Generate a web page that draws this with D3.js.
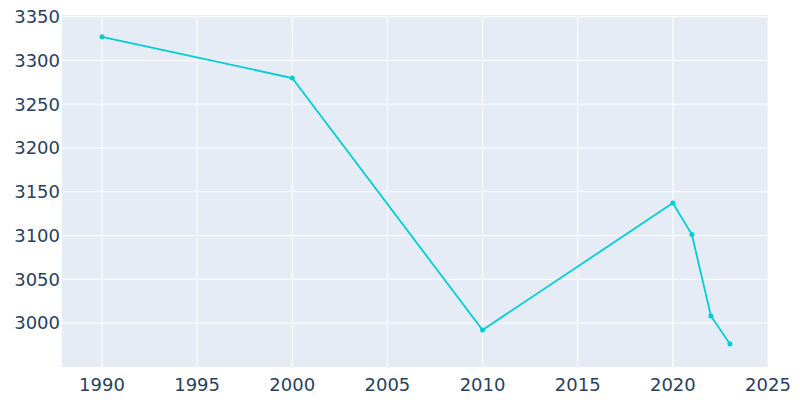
<!DOCTYPE html>
<html><head><meta charset="utf-8">
<script src="https://cdn.jsdelivr.net/npm/d3@7"></script>
<style>body{margin:0;background:#fff}</style>
</head><body>
<div id="chart"></div>
<script>
var years = [1990, 2000, 2010, 2020, 2021, 2022, 2023];
var population = [3327, 3280, 2992, 3137, 3101, 3008, 2976];
var xTicks = [1990, 1995, 2000, 2005, 2010, 2015, 2020, 2025];
var yTicks = [3000, 3050, 3100, 3150, 3200, 3250, 3300, 3350];

var svgWidth = 800, svgHeight = 400;
var margin = {top: 15, right: 32, bottom: 33, left: 62};
var width = svgWidth - margin.left - margin.right;
var height = svgHeight - margin.top - margin.bottom;

var svg = d3.select("#chart").append("svg")
    .attr("width", svgWidth).attr("height", svgHeight)
    .style("font-family", "'DejaVu Sans', sans-serif");

var g = svg.append("g").attr("transform", `translate(${margin.left},${margin.top})`);

var x = d3.scaleLinear().domain([1987.9, 2025]).range([0, width]);
var y = d3.scaleLinear().domain([2949.7, 3352]).range([height, 0]);

g.append("rect").attr("width", width).attr("height", height).attr("fill", "#e5ecf6");

g.selectAll(".vg").data(xTicks).enter().append("line")
    .attr("x1", d => x(d)).attr("x2", d => x(d))
    .attr("y1", 0).attr("y2", height)
    .attr("stroke", "#fff").attr("stroke-width", 1);
g.selectAll(".hg").data(yTicks).enter().append("line")
    .attr("x1", 0).attr("x2", width)
    .attr("y1", d => y(d)).attr("y2", d => y(d))
    .attr("stroke", "#fff").attr("stroke-width", 1);

g.selectAll(".xl").data(xTicks).enter().append("text")
    .attr("x", d => x(d)).attr("y", height + 24)
    .attr("text-anchor", "middle").attr("fill", "#2a3f5f")
    .attr("font-size", 18).text(d => d);
g.selectAll(".yl").data(yTicks).enter().append("text")
    .attr("x", -2).attr("y", d => y(d)).attr("dy", "0.35em")
    .attr("text-anchor", "end").attr("fill", "#2a3f5f")
    .attr("font-size", 18).text(d => d);

var pts = years.map((d, i) => ({year: d, value: population[i]}));

g.append("path").datum(pts)
    .attr("fill", "none").attr("stroke", "#00ced1").attr("stroke-width", 1.8)
    .attr("d", d3.line().x(d => x(d.year)).y(d => y(d.value)));

g.selectAll("circle").data(pts).enter().append("circle")
    .attr("cx", d => x(d.year)).attr("cy", d => y(d.value))
    .attr("r", 2.5).attr("fill", "#00ced1");
</script>
</body></html>
